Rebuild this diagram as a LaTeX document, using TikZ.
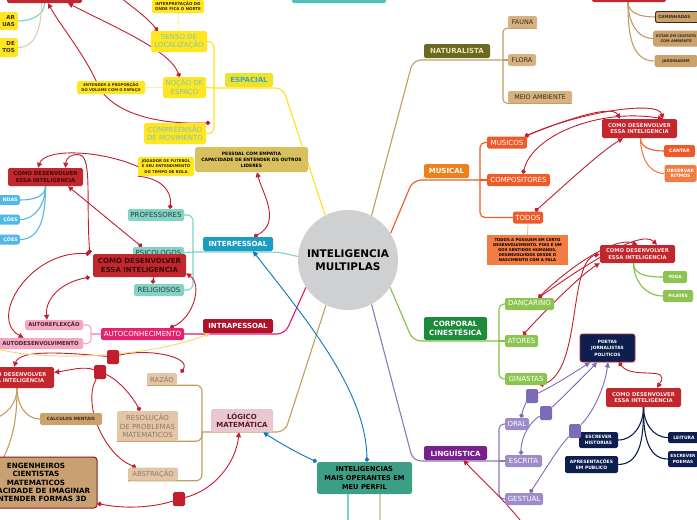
\documentclass[tikz,border=0pt]{standalone}
\usepackage{fontspec}
\setmainfont{DejaVu Sans}
\usetikzlibrary{arrows.meta}

\definecolor{coregray}{HTML}{CFD0D2}
\definecolor{redbox}{HTML}{C1272D}
\definecolor{redtxt}{HTML}{FBE3E3}
\definecolor{reddark}{HTML}{3A0A0C}
\definecolor{arrred}{HTML}{C41E2E}
\definecolor{arrblue}{HTML}{0A77B9}
\definecolor{arrpurp}{HTML}{7E6BB7}
\definecolor{natbox}{HTML}{6B691E}
\definecolor{nattxt}{HTML}{E9E3B4}
\definecolor{natline}{HTML}{C49C60}
\definecolor{natkid}{HTML}{D6B280}
\definecolor{darktxt}{HTML}{3A2A1C}
\definecolor{musbox}{HTML}{EF7F1A}
\definecolor{musline}{HTML}{EE5A24}
\definecolor{muskid}{HTML}{EE5A28}
\definecolor{musnote}{HTML}{F27C42}
\definecolor{corpbox}{HTML}{1E8B3A}
\definecolor{corpline}{HTML}{80C242}
\definecolor{corpkid}{HTML}{8DC450}
\definecolor{lingbox}{HTML}{7A1F8E}
\definecolor{lingline}{HTML}{8A79C0}
\definecolor{lingkid}{HTML}{9E8CC9}
\definecolor{navy}{HTML}{0C1F4E}
\definecolor{intelbox}{HTML}{3C9F85}
\definecolor{logbox}{HTML}{E8C7CF}
\definecolor{logtxt}{HTML}{5A1A2C}
\definecolor{logkid}{HTML}{E4C6A6}
\definecolor{logkidtxt}{HTML}{8C7B6C}
\definecolor{calcbox}{HTML}{C9A26C}
\definecolor{engbox}{HTML}{C8A072}
\definecolor{engline}{HTML}{8E1B1E}
\definecolor{intrabox}{HTML}{B0112B}
\definecolor{intraline}{HTML}{E3176D}
\definecolor{autobox}{HTML}{E2246E}
\definecolor{pinkkid}{HTML}{F6A6C4}
\definecolor{interbox}{HTML}{1B9CC2}
\definecolor{interline}{HTML}{7FD3C4}
\definecolor{interkid}{HTML}{86D3C6}
\definecolor{interkidtxt}{HTML}{1F3F3F}
\definecolor{skyblue}{HTML}{50B8E9}
\definecolor{espbox}{HTML}{F0E22A}
\definecolor{esptxt}{HTML}{3AA9C0}
\definecolor{espline}{HTML}{FFE21A}
\definecolor{espkid}{HTML}{FFE61E}
\definecolor{espkidtxt}{HTML}{7CC6C0}
\definecolor{notelight}{HTML}{FFF09A}
\definecolor{empbox}{HTML}{D8C05E}
\definecolor{topteal}{HTML}{4FC0B8}
\definecolor{yelarr}{HTML}{F5D76E}
\definecolor{beige}{HTML}{D9D0B4}

\pgfdeclarelayer{back}
\pgfdeclarelayer{links}
\pgfsetlayers{back,links,main}

\tikzset{
  box/.style={rectangle, rounded corners=1.6pt, inner sep=0pt, align=center},
  wh/.style 2 args={minimum width=#1pt, minimum height=#2pt},
  fs/.style 2 args={font=\fontsize{#1}{#2}\selectfont},
  fb/.style 2 args={font=\fontsize{#1}{#2}\selectfont\bfseries},
  branch/.style={line width=1.1pt},
  dotlink/.style={line width=0.9pt, draw=arrred, arrows={Circle[length=4.5pt]-Triangle[length=5pt,width=5pt]}},
  dotonly/.style={line width=0.9pt, draw=arrred, arrows={Circle[length=4.5pt]-}},
  headlink/.style={line width=0.9pt, draw=arrred, arrows={-Triangle[length=5pt,width=5pt]}},
  hub/.style={rectangle, rounded corners=1.5pt, minimum width=12pt, minimum height=14pt, inner sep=0pt},
}

\begin{document}
\begin{tikzpicture}[x=1pt,y=-1pt]
\useasboundingbox (0,0) rectangle (697,520);

% centre
\node[circle,fill=coregray,minimum size=100pt,inner sep=0pt,align=center,fb={10.5}{12.5}] (core) at (348,260) {INTELIGENCIA\\MULTIPLAS};

% naturalista
\node[box,wh={66}{14},fill=natbox,text=nattxt,fb={7}{8}] (nat) at (457,51) {NATURALISTA};
\node[box,wh={29}{12},fill=natkid,text=darktxt,fs={6.4}{7}] (fauna) at (522.5,22) {FAUNA};
\node[box,wh={28}{12},fill=natkid,text=darktxt,fs={6.4}{7}] (flora) at (522,60) {FLORA};
\node[box,wh={64}{12},fill=natkid,text=darktxt,fs={6.4}{7}] (meio) at (540,97) {MEIO AMBIENTE};
\node[box,wh={74}{22},fill=redbox] (redtr) at (629,-9) {};
\node[box,anchor=west,text width=44pt,inner xsep=3pt,minimum height=11pt,align=left,fill=calcbox,draw=darktxt,line width=0.8pt,text=darktxt,fb={4.2}{5}] (walk) at (655,17) {CAMINHADAS};
\node[box,anchor=west,text width=44pt,inner xsep=1pt,minimum height=16pt,fill=calcbox,text=darktxt,fb={3.6}{4.6}] (contact) at (653,38.5) {ESTAR EM CONTATO\\COM AMBIENTE};
\node[box,wh={43}{12},fill=calcbox,text=darktxt,fb={3.8}{5}] (garden) at (676,61) {JARDINAGEM};

% musical
\node[box,wh={45}{14},fill=musbox,text=white,fb={7}{8}] (mus) at (446.5,171) {MUSICAL};
\node[box,wh={40}{12},fill=muskid,text=white,fs={7}{8}] (musicos) at (507,142.5) {MUSICOS};
\node[box,wh={63}{12},fill=muskid,text=white,fs={7}{8}] (compos) at (518.5,180) {COMPOSITORES};
\node[box,wh={30}{12},fill=muskid,text=white,fs={7}{8}] (todos) at (528,217.5) {TODOS};
\node[rectangle,inner sep=0pt,align=center,wh={81}{30},fill=musnote,text=black,fb={3.9}{5.2}] (todosnote) at (527.5,250) {TODOS A POSSUEM EM CERTO\\DESENVOLVIMENTO. POIS É UM\\DOS SENTIDOS HUMANOS,\\DESENVOLVIDOS DESDE O\\NASCIMENTO COM A FALA};
\node[box,wh={75}{19},fill=redbox,text=redtxt,fb={5.3}{6.2}] (redmus) at (639.5,128.5) {COMO DESENVOLVER\\ESSA INTELIGENCIA};
\node[box,wh={31}{12},fill=muskid,text=white,fb={4.6}{5}] (cantar) at (679.5,151) {CANTAR};
\node[box,wh={32}{17},fill=musnote,text=white,fb={4.5}{5.5}] (ritmos) at (680.5,173.5) {OBSERVAR\\RITMOS};

% corporal
\node[box,wh={63}{23},fill=corpbox,text=white,fb={7.2}{9}] (corp) at (455.5,328.5) {CORPORAL\\CINESTÉSICA};
\node[box,wh={49}{12},fill=corpkid,text=white,fs={7}{8}] (danc) at (529.5,304) {DANÇARINO};
\node[box,wh={33}{12},fill=corpkid,text=white,fs={7}{8}] (atores) at (521.5,341) {ATORES};
\node[box,wh={42}{12},fill=corpkid,text=white,fs={7}{8}] (ginastas) at (526,379) {GINASTAS};
\node[box,wh={75}{18},fill=redbox,text=redtxt,fb={5.3}{6.2}] (redcorp) at (637.5,254) {COMO DESENVOLVER\\ESSA INTELIGENCIA};
\node[box,wh={24}{12},fill=corpkid,text=white,fb={4.3}{5}] (yoga) at (675,277) {YOGA};
\node[box,wh={30}{12},fill=corpkid,text=white,fb={4.3}{5}] (pilates) at (678,296) {PILATES};

% linguistica
\node[box,wh={63}{14},fill=lingbox,text=white,fb={7}{8}] (ling) at (455.5,453) {LINGUÍSTICA};
\node[box,wh={24}{12},fill=lingkid,text=white,fs={7}{8}] (oral) at (517,424) {ORAL};
\node[box,wh={37}{12},fill=lingkid,text=white,fs={7}{8}] (escrita) at (523.5,461) {ESCRITA};
\node[box,wh={38}{12},fill=lingkid,text=white,fs={7}{8}] (gestual) at (524,499) {GESTUAL};
\node[box,wh={55}{28},rounded corners=2.5pt,fill=navy,draw=redbox,line width=0.8pt,text=white,fb={4.4}{6.5}] (poetas) at (607.5,348) {POETAS\\JORNALISTAS\\POLITICOS};
\node[box,wh={75}{19},fill=redbox,text=redtxt,fb={5.3}{6.2}] (redling) at (643.5,397.5) {COMO DESENVOLVER\\ESSA INTELIGENCIA};
\node[box,wh={39}{16},fill=navy,text=white,fb={4.5}{5.5}] (hist) at (598.5,440) {ESCREVER\\HISTORIAS};
\node[box,wh={53}{17},fill=navy,text=white,fb={4.5}{5.5}] (apres) at (591.5,464.5) {APRESENTAÇÕES\\EM PUBLICO};
\node[box,wh={32}{11},fill=navy,text=white,fb={4.5}{5.5}] (leitura) at (684,437.5) {LEITURA};
\node[box,wh={30}{16},fill=navy,text=white,fb={4.3}{5.3}] (poems) at (683,459) {ESCREVER\\POEMAS};

% perfil
\node[box,wh={95}{32},rounded corners=2.5pt,fill=intelbox,text=black,fb={6.7}{9}] (intel) at (364.5,478) {INTELIGENCIAS\\MAIS OPERANTES EM\\MEU PERFIL};

% logico matematica
\node[box,wh={62}{23},fill=logbox,text=logtxt,fb={7}{8.5}] (logico) at (242,420.5) {LÓGICO\\MATEMÁTICA};
\node[box,wh={30}{12},fill=logkid,text=logkidtxt,fs={6.8}{8}] (razao) at (162,379) {RAZÃO};
\node[box,wh={61}{30},fill=logkid,text=logkidtxt,fs={7}{8.5}] (resol) at (147.5,426) {RESOLUÇÃO\\DE PROBLEMAS\\MATEMATICOS};
\node[box,wh={50}{13},fill=logkid,text=logkidtxt,fs={6.8}{8}] (abstr) at (153,474) {ABSTRAÇÃO};
\node[box,wh={78}{21},fill=redbox,text=redtxt,fb={5.3}{6.2}] (redlog) at (15,377.5) {COMO DESENVOLVER\\ESSA INTELIGENCIA};
\node[box,wh={62}{12},fill=calcbox,text=darktxt,fb={4.3}{5}] (calc) at (71,419) {CALCULOS MENTAIS};
\node[box,wh={122}{51},rounded corners=3pt,fill=engbox,draw=engline,line width=1pt,text=black,fb={7.2}{8.4}] (eng) at (36,482.5) {ENGENHEIROS\\CIENTISTAS\\MATEMATICOS\\CAPACIDADE DE IMAGINAR\\E ENTENDER FORMAS 3D};

% intrapessoal
\node[box,wh={70}{14},fill=intrabox,text=white,fb={7}{8}] (intra) at (238,326) {INTRAPESSOAL};
\node[box,wh={83}{12},fill=autobox,text=white,fs={7}{8}] (autocon) at (142.5,334) {AUTOCONHECIMENTO};
\node[box,wh={58}{10},fill=pinkkid,text=darktxt,fb={5.3}{6}] (autoref) at (54,325) {AUTOREFLEXÇÃO};
\node[box,wh={85}{11},fill=pinkkid,text=darktxt,fb={5.4}{6}] (autodes) at (40.5,343.5) {AUTODESENVOLVIMENTO};

% interpessoal
\node[box,wh={70}{14},fill=interbox,text=white,fb={7}{8}] (inter) at (238,244) {INTERPESSOAL};
\node[box,wh={56}{12},fill=interkid,text=interkidtxt,fs={7}{8}] (prof) at (156,215) {PROFESSORES};
\node[box,wh={51}{11},fill=interkid,text=interkidtxt,fs={7}{8}] (psico) at (158.5,252.5) {PSICOLOGOS};
\node[box,wh={50}{12},fill=interkid,text=interkidtxt,fs={7}{8}] (relig) at (159,290) {RELIGIOSOS};
\node[box,wh={93}{23},fill=redbox,text=reddark,fb={7}{8.3}] (bigred) at (139.5,265.5) {COMO DESENVOLVER\\ESSA INTELIGENCIA};
\node[box,wh={75}{18},fill=redbox,text=reddark,fb={5.4}{6.2}] (redtl) at (45.5,177) {COMO DESENVOLVER\\ESSA INTELIGENCIA};
\node[box,anchor=east,text width=36pt,inner xsep=2pt,minimum height=10pt,align=right,fill=skyblue,text=white,fb={4.8}{5.5}] (sky1) at (20,200) {NDAS};
\node[box,anchor=east,text width=36pt,inner xsep=2pt,minimum height=10pt,align=right,fill=skyblue,text=white,fb={4.8}{5.5}] (sky2) at (20,219.5) {ÇÕES};
\node[box,anchor=east,text width=36pt,inner xsep=2pt,minimum height=10pt,align=right,fill=skyblue,text=white,fb={4.8}{5.5}] (sky3) at (20,239.5) {ÇÕES};
\node[box,wh={56}{19},fill=espkid,text=darktxt,fb={3.85}{5.5}] (jog) at (166,166.5) {JOGADOR DE FUTEBOL\\E SEU ENTENDIMENTO\\DO TEMPO DE BOLA};
\node[box,wh={113}{25},rounded corners=2.5pt,fill=empbox,text=black,fb={4.5}{6}] (pessoal) at (251.5,159.5) {PESSOAL COM EMPATIA\\CAPACIDADE DE ENTENDER OS OUTROS\\LIDERES};

% espacial
\node[box,wh={48}{14},fill=espbox,text=esptxt,fb={7}{8}] (esp) at (249,80) {ESPACIAL};
\node[box,wh={56}{21},fill=espkid,text=espkidtxt,fs={7}{8.5}] (senso) at (179,41.5) {SENSO DE\\LOCALIZAÇÃO};
\node[box,wh={43}{21},fill=espkid,text=espkidtxt,fs={7}{8.5}] (nocao) at (184.5,87.5) {NOÇÃO DE\\ESPAÇO};
\node[box,wh={62}{21},fill=espkid,text=espkidtxt,fs={7}{8.5}] (compr) at (175,133.5) {COMPREENSÃO\\DE MOVIMENTO};
\node[box,wh={52}{13},fill=espkid,text=darktxt,fb={4}{5}] (interp) at (178,6.5) {INTERPRETAÇÃO DO\\ONDE FICA O NORTE};
\node[box,wh={68}{13},fill=espkid,text=darktxt,fb={3.8}{5}] (entender) at (111,87.5) {ENTENDER A PROPORÇÃO\\DO VOLUME COM O ESPAÇO};
\node[box,anchor=east,text width=30pt,inner xsep=3pt,minimum height=18pt,align=right,fill=espkid,text=darktxt,fb={5.5}{7}] (yl1) at (18,21) {AR\\UAS};
\node[box,anchor=east,text width=30pt,inner xsep=3pt,minimum height=19pt,align=right,fill=espkid,text=darktxt,fb={5.5}{7}] (yl2) at (18,47.5) {DE\\TOS};
\node[box,wh={75}{22},fill=redbox] (redtopl) at (44.5,-8) {};
\node[box,wh={94}{26},fill=topteal] (tealtop) at (339,-10) {};

% hubs on the links
\node[hub,fill=arrred] (sqR) at (113,357) {};
\node[hub,fill=arrred] (sqQ) at (100,372) {};
\node[hub,fill=arrred] (sqL) at (179,499) {};
\node[hub,fill=arrpurp] (sqO) at (532,396) {};
\node[hub,fill=arrpurp] (sqE) at (546,413) {};
\node[hub,fill=arrpurp] (sqG) at (575,431) {};

% forks and loose ends
\coordinate (nfork) at (503,60);
\coordinate (mfork) at (480,180);
\coordinate (cfork) at (499,341);
\coordinate (lfork) at (499,461);
\coordinate (lgfork) at (202,432);
\coordinate (afork) at (91,334);
\coordinate (ifork) at (193,252);
\coordinate (efork) at (214,88);
\coordinate (intelA) at (348,530);
\coordinate (intelB) at (380,530);
\coordinate (offL1) at (-8,420);
\coordinate (offL2) at (-4,472);
\coordinate (offS) at (114,-8);
\coordinate (offLing) at (528,530);
\coordinate (offY) at (-6,348);

\begin{pgfonlayer}{back}
\fill[white] (0,0) rectangle (697,520);
% naturalista
\draw[branch,draw=natline,rounded corners=8pt] (core.62) -- (413,60) -- (nfork);
\draw[branch,draw=natline,rounded corners=4pt] (nfork) |- (fauna.south east);
\draw[branch,draw=natline] (nfork) -- (flora.east);
\draw[branch,draw=natline,rounded corners=4pt] (nfork) |- (meio.south east);
\draw[branch,draw=natline] ([xshift=-1]redtr.south) to[out=-90,in=180] (walk.west);
\draw[branch,draw=natline] ([xshift=-1]redtr.south) to[out=-90,in=180] (contact.west);
\draw[branch,draw=natline] ([xshift=-1]redtr.south) to[out=-90,in=180] (garden.west);
% musical
\draw[branch,draw=musline,rounded corners=8pt] (core.32) -- (413,180) -- (mfork);
\draw[branch,draw=musline,rounded corners=5pt] (mfork) |- (musicos.west);
\draw[branch,draw=musline] (mfork) -- (compos.west);
\draw[branch,draw=musline,rounded corners=5pt] (mfork) |- (todos.west);
\draw[line width=0.8pt,draw=musnote!60] (todos.south) -- (todosnote.north);
\draw[branch,draw=musline] ([xshift=1]redmus.south) to[out=-90,in=180] (cantar.west);
\draw[branch,draw=musnote] ([xshift=1]redmus.south) to[out=-90,in=180] (ritmos.west);
% corporal
\draw[branch,draw=corpline,rounded corners=8pt] (core.-33) -- (413,341) -- (cfork);
\draw[branch,draw=corpline,rounded corners=5pt] (cfork) |- (danc.west);
\draw[branch,draw=corpline] (cfork) -- (atores.west);
\draw[branch,draw=corpline,rounded corners=5pt] (cfork) |- (ginastas.west);
\draw[branch,draw=corpline] ([xshift=-4]redcorp.south) to[out=-90,in=180] (yoga.west);
\draw[branch,draw=corpline] ([xshift=-4]redcorp.south) to[out=-90,in=180] (pilates.west);
% linguistica
\draw[branch,draw=lingline,rounded corners=8pt] (core.-62) -- (413,461) -- (lfork);
\draw[branch,draw=lingline,rounded corners=5pt] (lfork) |- (oral.west);
\draw[branch,draw=lingline] (lfork) -- (escrita.west);
\draw[branch,draw=lingline,rounded corners=5pt] (lfork) |- (gestual.west);
\draw[branch,draw=navy] (redling.south) to[out=-90,in=0] (hist.east);
\draw[branch,draw=navy] (redling.south) to[out=-90,in=0] (apres.east);
\draw[branch,draw=navy] (redling.south) to[out=-90,in=180] (leitura.west);
\draw[branch,draw=navy] (redling.south) to[out=-90,in=180] (poems.west);
% perfil
\draw[branch,draw=interline] (intel.south -| intelA) -- (intelA);
\draw[branch,draw=beige] (intel.south -| intelB) -- (intelB);
% logico
\draw[branch,draw=natline,rounded corners=8pt] (core.244) -- (285,432) -- (lgfork);
\draw[branch,draw=natline,rounded corners=6pt] (lgfork) |- (razao.south west);
\draw[branch,draw=natline,rounded corners=6pt] (lgfork) |- (resol.south west);
\draw[branch,draw=natline,rounded corners=6pt] (lgfork) |- (abstr.south west);
\draw[branch,draw=natline] ([xshift=2]redlog.south) to[out=-90,in=180] (calc.west);
\draw[branch,draw=natline] ([xshift=2]redlog.south) to[out=-90,in=20] (offL1);
\draw[branch,draw=natline] ([xshift=2]redlog.south) to[out=-90,in=60] (offL2);
% intrapessoal
\draw[branch,draw=intraline,rounded corners=8pt] (core.213) -- (285,334) -- (autocon.east);
\draw[branch,draw=pinkkid] (autocon.west) -- (afork);
\draw[branch,draw=pinkkid,rounded corners=4pt] (afork) |- (autoref.east);
\draw[branch,draw=pinkkid,rounded corners=4pt] (afork) |- (autodes.east);
% interpessoal
\draw[branch,draw=interline,rounded corners=8pt] (core.176) -- (278,252) -- (ifork);
\draw[branch,draw=interline,rounded corners=6pt] (ifork) |- (prof.east);
\draw[branch,draw=interline] (ifork) -- (psico.east);
\draw[branch,draw=interline,rounded corners=6pt] (ifork) |- (relig.east);
\draw[branch,draw=skyblue] (redtl.south) to[out=-90,in=0] (sky1.east);
\draw[branch,draw=skyblue] (redtl.south) to[out=-90,in=0] (sky2.east);
\draw[branch,draw=skyblue] (redtl.south) to[out=-90,in=0] (sky3.east);
% espacial
\draw[branch,draw=espline,rounded corners=8pt] (core.117) -- (283,88) -- (efork);
\draw[branch,draw=espline,rounded corners=6pt] (efork) |- (senso.east);
\draw[branch,draw=espline] (efork) -- (nocao.east);
\draw[branch,draw=espline,rounded corners=6pt] (efork) |- (compr.east);
\draw[line width=0.8pt,draw=notelight] (senso.north) -- (interp.south);
\draw[line width=0.8pt,draw=notelight] (nocao.west) -- (entender.east);
\draw[line width=0.8pt,draw=notelight] ([xshift=-4]compr.south east) -- ([xshift=-4]compr.south east |- pessoal.north);
\draw[branch,draw=interline] (redtopl.south) to[out=-90,in=0] (yl1.east);
\draw[branch,draw=beige] ([xshift=-3]redtopl.south) to[out=-90,in=0] (yl2.east);
\end{pgfonlayer}

\begin{pgfonlayer}{links}
% espacial
\draw[dotonly] ([xshift=7]senso.north west) .. controls (145,15) and (125,2) .. (offS);
\draw[dotlink] ([xshift=-5]nocao.north) .. controls (170,50) and (110,25) .. ([xshift=23.5]redtopl.south);
\draw[dotlink] ([xshift=4]compr.north east) .. controls (150,125) and (110,110) .. (98,85) .. controls (85,55) and (60,25) .. ([xshift=3.5]redtopl.south);
% interpessoal
\draw[headlink] (jog.west) .. controls (100,150) and (45,148) .. ([xshift=-7.5]redtl.north);
\draw[dotonly] ([xshift=14]prof.north) .. controls (172,190) and (160,178) .. (jog.south west);
\draw[dotlink] ([xshift=-16.5]psico.north) .. controls (115,225) and (85,200) .. ([xshift=22.5]redtl.south);
\draw[dotlink] ([xshift=-3]bigred.north west) .. controls (86,200) and (92,158) .. (80,155) .. controls (72,153) and (66,158) .. ([xshift=20]redtl.north);
\draw[dotlink] ([xshift=-3]bigred.north west) .. controls (30,250) and (-12,318) .. ([xshift=-17]autodes.north);
\draw[dotlink] ([xshift=-3]bigred.south west) .. controls (62,282) and (45,298) .. ([xshift=-7]autoref.north);
\draw[dotlink] ([xshift=27.5]autocon.north) .. controls (193,318) and (203,285) .. ([yshift=4]bigred.south east);
\draw[dotonly] ([xshift=-6]relig.north) -- ([xshift=13.5]bigred.south);
\draw[dotlink] ([xshift=16]inter.north) .. controls (282,222) and (262,192) .. ([xshift=5.5]pessoal.south);
% musical
\draw[dotlink] ([xshift=18]musicos.north) .. controls (565,120) and (612,104) .. ([xshift=-19.5]redmus.north);
\draw[dotlink] ([xshift=18]musicos.north) .. controls (580,112) and (658,100) .. ([xshift=23.5]redmus.north);
\draw[dotlink] ([xshift=4.5]compos.north) .. controls (532,135) and (600,108) .. ([xshift=23.5]redmus.north);
\draw[dotlink] ([xshift=7]todos.north) .. controls (565,185) and (600,152) .. ([xshift=-16.5]redmus.south);
% corporal
\draw[dotlink] ([xshift=9]danc.north) .. controls (575,272) and (640,228) .. ([xshift=19.5]redcorp.north);
\draw[dotlink] ([xshift=9]danc.north) .. controls (568,268) and (615,236) .. (redcorp.north);
\draw[dotlink] ([xshift=1.5]atores.north) .. controls (555,300) and (585,272) .. (redcorp.south west);
\draw[dotlink] ([xshift=14]ginastas.south) .. controls (582,372) and (568,262) .. (redcorp.west);
% linguistica
\draw[dotonly,draw=arrpurp] ([xshift=4]oral.north) .. controls (524,405) and (528,400) .. (sqO);
\draw[headlink,draw=arrpurp] (sqO) .. controls (555,385) and (575,372) .. ([xshift=-17.5]poetas.south);
\draw[dotonly,draw=arrpurp] ([xshift=-2.5]escrita.north) .. controls (521,435) and (532,420) .. (sqE);
\draw[headlink,draw=arrpurp] (sqE) .. controls (565,395) and (585,375) .. ([xshift=-10.5]poetas.south);
\draw[dotonly,draw=arrpurp] ([xshift=6]gestual.north) .. controls (545,470) and (560,445) .. (sqG);
\draw[headlink,draw=arrpurp] (sqG) .. controls (595,410) and (605,385) .. ([xshift=0.5]poetas.south);
\draw[dotlink] ([xshift=11.5]poetas.south) .. controls (632,380) and (672,365) .. ([xshift=13.5]redling.north);
\draw[headlink] (offLing) .. controls (505,500) and (480,478) .. ([xshift=8]ling.south);
% perfil
\draw[dotlink,draw=arrblue] (intel.north west) .. controls (295,452) and (275,440) .. ([xshift=-10]logico.south east);
\draw[dotlink,draw=arrblue] ([xshift=2.5]intel.north) .. controls (366,390) and (305,318) .. ([xshift=15]inter.south);
% logico
\draw[dotonly] ([xshift=19]razao.north) .. controls (192,356) and (145,348) .. (sqR);
\draw[headlink] (sqR) .. controls (60,352) and (20,350) .. ([xshift=-1]redlog.north);
\draw[dotonly] ([xshift=-7.5]resol.north) .. controls (130,392) and (115,378) .. (sqQ);
\draw[headlink] (sqQ) .. controls (84,366) and (70,370) .. ([yshift=5]redlog.east);
\draw[dotonly] ([xshift=-17]abstr.north) .. controls (105,455) and (82,405) .. (sqQ);
\draw[dotonly] ([yshift=5]eng.south east) .. controls (130,510) and (158,506) .. (sqL);
\draw[headlink] (sqL) .. controls (215,490) and (236,462) .. ([xshift=-3]logico.south);
\draw[headlink,draw=yelarr] (offY) .. controls (40,362) and (150,358) .. ([xshift=7]intra.south west);
\end{pgfonlayer}
\end{tikzpicture}
\end{document}
